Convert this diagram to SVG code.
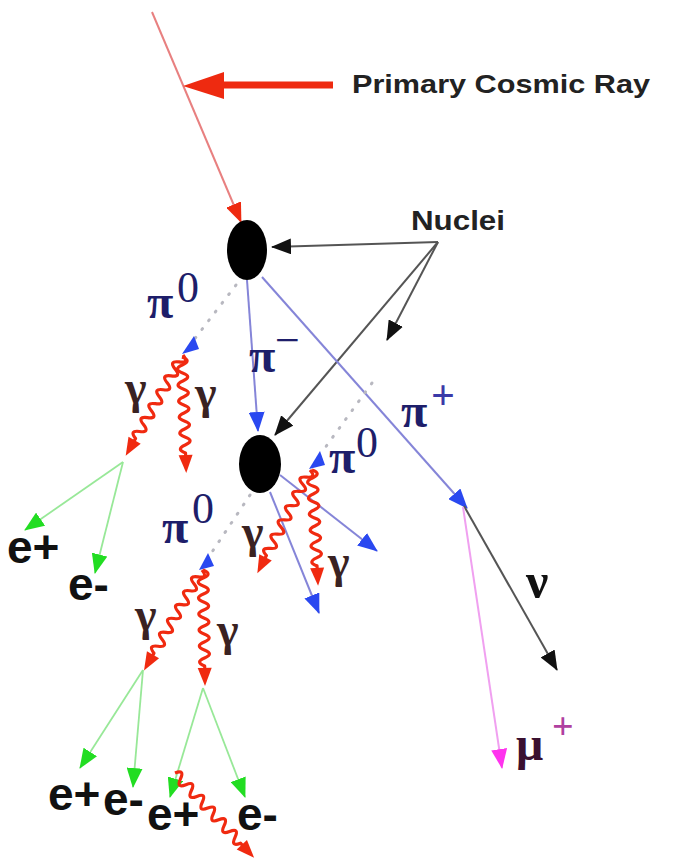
<svg xmlns="http://www.w3.org/2000/svg" xmlns:xlink="http://www.w3.org/1999/xlink" width="674" height="858" viewBox="0 0 674 858">
<style>
.lbl{font-family:"Liberation Sans",Arial,sans-serif;font-weight:bold;fill:#222}
.gr{font-family:"Liberation Serif","Times New Roman",serif;font-weight:bold}
.pi{fill:#1e1e6a;font-size:48px}
.sup{fill:#1e1e6a;font-size:44px;font-weight:normal}
.gam{fill:#3a2222;font-size:46px}
.el{font-family:"Liberation Sans",Arial,sans-serif;font-weight:bold;font-size:46px;fill:#111}
.blue{stroke:#8585d8;stroke-width:2;fill:none}
.blk{stroke:#555;stroke-width:2;fill:none}
.grn{stroke:#98e898;stroke-width:1.8;fill:none}
.dot{stroke:#b8b8c0;stroke-width:3;stroke-dasharray:1 10;stroke-linecap:round;fill:none}
</style>
<defs>
<marker id="mB" markerWidth="20" markerHeight="16" refX="19" refY="8" orient="auto" markerUnits="userSpaceOnUse"><path d="M0,0 L20,8 L0,16 z" fill="#2a48f0"/></marker>
<marker id="mK" markerWidth="20" markerHeight="16" refX="19" refY="8" orient="auto" markerUnits="userSpaceOnUse"><path d="M0,0 L20,8 L0,16 z" fill="#111"/></marker>
<marker id="mG" markerWidth="20" markerHeight="16" refX="19" refY="8" orient="auto" markerUnits="userSpaceOnUse"><path d="M0,0 L20,8 L0,16 z" fill="#22dd22"/></marker>
<marker id="mM" markerWidth="20" markerHeight="16" refX="19" refY="8" orient="auto" markerUnits="userSpaceOnUse"><path d="M0,0 L20,8 L0,16 z" fill="#ff33ee"/></marker>
<marker id="mR" markerWidth="20" markerHeight="16" refX="19" refY="8" orient="auto" markerUnits="userSpaceOnUse"><path d="M0,0 L20,8 L0,16 z" fill="#ee2a10"/></marker>
<g id="wave">
<path d="M0,0 Q4,-10 8,0 T16,0 T24,0 T32,0 T40,0 T48,0 T56,0 T64,0 T72,0 T80,0 T88,0 T96,0 L100,0" fill="none" stroke="#f02a10" stroke-width="3.2" stroke-linejoin="round"/>
<path d="M98,-7 L116,0 L98,7 z" fill="#f02a10"/>
</g>
</defs>
<rect width="674" height="858" fill="#fff"/>

<g id="connectors">
<line x1="152" y1="12" x2="241" y2="222" stroke="#e88080" stroke-width="2" marker-end="url(#mR)"/>
<line x1="333" y1="85" x2="215" y2="85" stroke="#ee2a10" stroke-width="7"/>
<path d="M183,86 L224,72 L224,99 z" fill="#ee2a10"/>
<line x1="438" y1="242" x2="272" y2="247" class="blk" marker-end="url(#mK)"/>
<line x1="438" y1="242" x2="387" y2="340" class="blk" marker-end="url(#mK)"/>
<line x1="438" y1="242" x2="275" y2="435" class="blk" marker-end="url(#mK)"/>
<line x1="247" y1="280" x2="258" y2="431" class="blue" marker-end="url(#mB)"/>
<line x1="262" y1="277" x2="467" y2="508" class="blue" marker-end="url(#mB)"/>
<line x1="280" y1="475" x2="377" y2="551" class="blue" marker-end="url(#mB)"/>
<line x1="270" y1="492" x2="319" y2="613" class="blue" marker-end="url(#mB)"/>
<line x1="236" y1="285" x2="190" y2="345" class="dot"/>
<line x1="372" y1="383" x2="322" y2="452" class="dot"/>
<line x1="250" y1="495" x2="208" y2="558" class="dot"/>
<path d="M194,336 L199,349 L182,354 z" fill="#2a48f0"/>
<path d="M320,451 L325,465 L309,469 z" fill="#2a48f0"/>
<path d="M208,553 L214,566 L199,570 z" fill="#2a48f0"/>
<line x1="123" y1="462" x2="25" y2="530" class="grn" marker-end="url(#mG)"/>
<line x1="123" y1="462" x2="95" y2="573" class="grn" marker-end="url(#mG)"/>
<line x1="143" y1="670" x2="80" y2="768" class="grn" marker-end="url(#mG)"/>
<line x1="143" y1="670" x2="133" y2="787" class="grn" marker-end="url(#mG)"/>
<line x1="203" y1="688" x2="170" y2="797" class="grn" marker-end="url(#mG)"/>
<line x1="203" y1="688" x2="245" y2="797" class="grn" marker-end="url(#mG)"/>
<line x1="464" y1="506" x2="557" y2="670" class="blk" marker-end="url(#mK)"/>
<line x1="463" y1="507" x2="502" y2="768" stroke="#f0a0f0" stroke-width="2" marker-end="url(#mM)"/>
<use xlink:href="#wave" transform="translate(183,355) rotate(119.6)"/>
<use xlink:href="#wave" transform="translate(182,357) rotate(87.9)"/>
<use xlink:href="#wave" transform="translate(310,470) rotate(117)"/>
<use xlink:href="#wave" transform="translate(312,470) rotate(87)"/>
<use xlink:href="#wave" transform="translate(202,570) rotate(120)"/>
<use xlink:href="#wave" transform="translate(203,570) rotate(89)"/>
</g>

<g id="nucleus1"><ellipse cx="247" cy="250" rx="20" ry="30" fill="#000"/></g>
<g id="nucleus2"><ellipse cx="260" cy="464" rx="21" ry="29" fill="#000"/></g>

<g id="label-primary"><text class="lbl" x="352" y="93" font-size="25" textLength="298" lengthAdjust="spacingAndGlyphs">Primary Cosmic Ray</text></g>
<g id="label-nuclei"><text class="lbl" x="411" y="230" font-size="27" textLength="94" lengthAdjust="spacingAndGlyphs">Nuclei</text></g>

<g id="pi0-a"><text class="gr pi" x="147" y="318">π</text><text class="gr sup" x="177" y="302">0</text></g>
<g id="pi-minus"><text class="gr pi" x="249" y="372">π</text><text class="gr sup" x="275" y="355">−</text></g>
<g id="pi0-b"><text class="gr pi" x="329" y="473">π</text><text class="gr sup" x="356" y="457">0</text></g>
<g id="pi-plus"><text class="gr pi" x="401" y="427">π</text><text class="gr" x="431" y="409" font-size="42" font-weight="normal" fill="#3a3aa8">+</text></g>
<g id="pi0-c"><text class="gr pi" x="162" y="543">π</text><text class="gr sup" x="192" y="523">0</text></g>

<g id="gammas">
<text class="gr gam" x="125" y="403">γ</text>
<text class="gr gam" x="195" y="408">γ</text>
<text class="gr gam" x="242" y="547">γ</text>
<text class="gr gam" x="328" y="577">γ</text>
<text class="gr gam" x="135" y="630">γ</text>
<text class="gr gam" x="217" y="645">γ</text>
</g>
<g id="nu"><text class="gr" x="526" y="598" font-size="50" fill="#111">ν</text></g>
<g id="mu-plus"><text class="gr" x="516" y="760" font-size="48" fill="#3a1030">μ</text><text class="gr" x="552" y="739" font-size="38" font-weight="normal" fill="#b040a0">+</text></g>

<g id="electrons">
<text class="el" x="7" y="563">e+</text>
<text class="el" x="68" y="600">e-</text>
<text class="el" x="48" y="810">e+</text>
<text class="el" x="103" y="815">e-</text>
<text class="el" x="147" y="830">e+</text>
<text class="el" x="237" y="830">e-</text>
</g>
<g id="wave-bottom"><use xlink:href="#wave" transform="translate(175,773) rotate(47)"/></g>
</svg>
